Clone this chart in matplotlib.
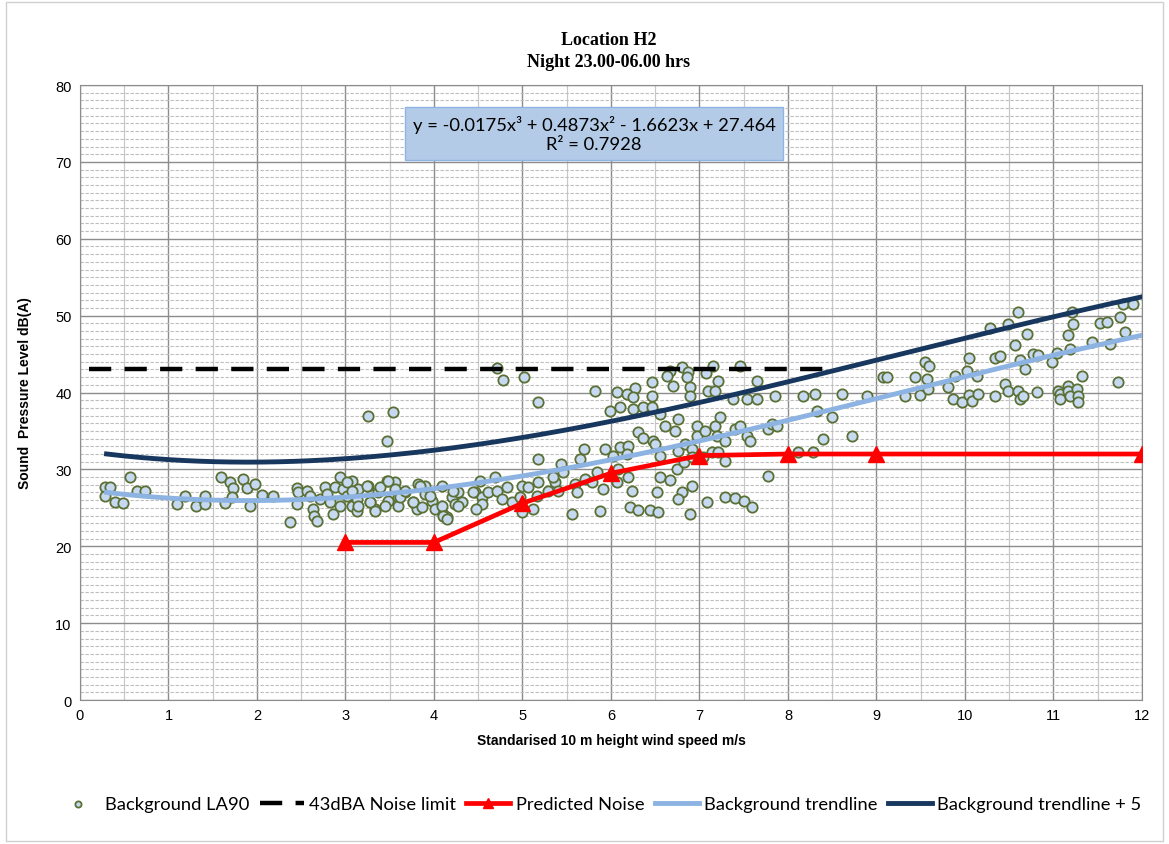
import numpy as np
import matplotlib
matplotlib.use('Agg')
import matplotlib.pyplot as plt
from matplotlib.ticker import MultipleLocator
from matplotlib.patches import Rectangle

# Background LA90 measurements (wind speed m/s, dB(A))
bg_x = [0.28, 0.34, 0.28, 0.40, 0.49, 0.56, 0.64, 0.73, 1.10, 1.19, 1.31, 1.41, 1.41,
        1.59, 1.69, 1.73, 1.84, 1.89, 1.98, 1.72, 1.64, 1.92, 2.06, 2.18, 2.37, 2.45,
        2.46, 2.56, 2.45, 2.60, 2.63, 2.65, 2.68, 2.71, 2.77, 2.79, 2.82, 2.86, 2.88,
        2.94, 2.94, 2.97, 3.02, 3.07, 3.07,
        3.25, 3.54, 3.47, 4.71, 4.78, 5.02, 5.18, 5.82, 5.99, 6.07,
        3.14, 3.13, 3.25, 3.28, 3.33, 3.37, 3.47, 3.48, 3.56, 3.59, 3.59, 3.67, 3.76,
        3.81, 3.82, 3.90, 3.90, 3.98, 4.01, 4.09, 4.10, 4.15, 4.20, 4.24, 4.27, 4.32,
        4.46, 4.52, 4.54, 4.54, 4.61, 4.69, 4.71, 4.77, 4.82, 4.88, 4.97, 4.99, 4.99,
        5.06, 5.12, 5.16, 5.18, 5.18, 5.29, 5.37, 5.35, 5.40, 5.44, 5.46, 5.56, 5.59,
        5.62, 5.65, 5.69, 5.71, 5.79, 5.84, 5.88, 5.91, 5.93, 6.02, 6.08, 6.07,
        3.02, 3.07, 3.13, 3.14, 3.24, 3.28, 3.33, 3.39, 3.45, 3.48, 3.56, 3.62, 3.67,
        3.76, 3.84, 3.86, 3.95, 4.09, 4.10, 4.15, 4.22, 4.27, 4.44, 4.48,
        6.67, 6.80, 6.63, 6.87, 6.86, 7.07, 7.15, 7.46, 7.21, 7.65, 6.46, 6.70, 6.89,
        6.27, 6.18, 6.25, 6.46, 6.89, 7.10, 7.18, 7.38, 7.54, 7.65, 7.85, 8.17, 8.31,
        8.61, 8.89, 9.07,
        6.10, 6.25, 6.36, 6.46, 6.55, 6.76, 6.61, 6.72, 6.31, 6.36, 6.47, 6.50, 6.97,
        6.97, 7.06, 7.18, 7.23, 7.20, 7.29, 7.40, 7.46, 7.54, 7.57, 7.77, 7.82, 7.88,
        8.33, 8.50, 8.40, 8.72,
        6.10, 6.19, 6.18, 6.55, 6.76, 6.84, 6.92, 6.75, 6.82, 6.92, 7.04, 7.14, 7.21,
        7.29, 8.11, 8.28, 7.77,
        6.19, 6.24, 6.55, 6.67, 6.52, 6.80, 6.76, 6.92, 6.21, 6.31, 6.44, 6.53, 6.89,
        7.08, 7.29, 7.40, 7.50, 7.59,
        9.12, 9.44, 9.32, 9.49, 9.55, 9.59, 9.57, 9.58, 9.81, 9.89, 9.86, 9.97, 10.04,
        10.02, 10.04, 10.08, 10.14, 10.15, 10.34, 10.34, 10.40, 10.28, 10.49, 10.45,
        10.49, 10.60, 10.62, 10.66, 10.68, 10.62, 10.56, 10.70, 10.60, 10.77, 10.82,
        10.81, 10.98, 11.04, 11.05, 11.07, 11.07, 11.16, 11.16, 11.19, 11.27, 11.28,
        11.28, 11.19, 11.16, 11.22, 11.21, 11.32, 11.43, 11.53, 11.60, 11.64, 11.75,
        11.81, 11.73, 11.79, 11.90]
bg_y = [27.7, 27.7, 26.5, 25.7, 25.6, 29.0, 27.2, 27.2, 25.5, 26.5, 25.2, 26.5, 25.5,
        29.0, 28.4, 27.6, 28.7, 27.6, 28.1, 26.4, 25.6, 25.2, 26.7, 26.5, 23.2, 27.6,
        27.0, 27.2, 25.5, 26.5, 24.8, 23.9, 23.3, 26.1, 27.7, 26.8, 25.7, 24.2, 27.7,
        29.0, 25.2, 27.4, 26.5, 28.5, 25.2,
        36.9, 37.5, 33.7, 43.2, 41.6, 42.0, 38.8, 40.2, 37.6, 40.1,
        27.4, 24.6, 27.8, 25.7, 24.8, 27.1, 28.5, 25.9, 28.4, 26.4, 25.2, 27.1, 25.7,
        24.8, 28.1, 26.8, 27.8, 25.9, 24.8, 27.8, 24.2, 23.8, 26.4, 25.5, 27.1, 25.7,
        27.1, 28.5, 26.4, 25.5, 27.1, 29.0, 27.2, 26.1, 27.7, 25.7, 26.4, 27.8, 24.5,
        27.7, 24.8, 26.5, 28.4, 31.3, 27.2, 28.4, 29.0, 27.2, 30.7, 29.7, 24.2, 28.1,
        27.1, 31.3, 32.6, 28.7, 28.4, 29.7, 24.6, 27.4, 32.6, 31.7, 30.0, 28.4,
        28.4, 27.2, 26.1, 25.2, 27.8, 25.7, 24.6, 27.7, 25.2, 28.5, 27.4, 26.4, 27.2,
        25.7, 27.8, 25.1, 26.5, 25.2, 23.9, 23.5, 27.2, 25.2, 27.1, 24.8,
        42.8, 43.3, 42.1, 42.7, 42.0, 42.5, 43.4, 43.4, 41.5, 41.5, 41.4, 40.8, 40.7,
        40.6, 39.8, 39.4, 39.5, 39.5, 40.2, 40.2, 39.2, 39.2, 39.2, 39.5, 39.5, 39.8,
        39.8, 39.5, 42.0,
        38.1, 37.9, 38.1, 38.1, 37.2, 36.6, 35.6, 35.0, 34.9, 34.1, 33.7, 33.3, 35.6,
        34.3, 35.0, 35.6, 36.8, 34.3, 33.7, 35.3, 35.6, 34.3, 33.7, 35.3, 35.9, 35.6,
        37.6, 36.8, 34.0, 34.3,
        32.9, 33.0, 32.0, 31.7, 32.4, 33.3, 32.6, 30.0, 31.0, 31.6, 31.6, 32.3, 32.3,
        31.1, 32.3, 32.3, 29.1,
        29.0, 27.2, 29.0, 28.6, 27.1, 27.1, 26.1, 27.8, 25.1, 24.7, 24.7, 24.4, 24.2,
        25.7, 26.4, 26.3, 25.9, 25.1,
        42.0, 42.0, 39.5, 39.7, 44.0, 43.5, 41.8, 40.5, 40.7, 42.1, 39.2, 38.8, 39.7,
        42.8, 44.5, 38.9, 42.1, 39.8, 39.5, 44.5, 44.8, 48.4, 48.9, 41.1,
        40.2, 40.2, 39.2, 39.5, 43.1, 44.2, 46.2, 47.6, 50.5, 45.0, 44.9,
        40.1, 44.0, 45.2, 40.2, 39.8, 39.2, 40.8, 40.2, 39.5, 40.5, 39.5,
        38.8, 45.7, 47.5, 48.9, 50.5, 42.1, 46.6, 49.1, 49.2, 46.3, 49.8,
        47.9, 41.4, 51.5, 51.5]

# 43dBA night-time limit
limit_x = [0.1, 8.5]
limit_y = [43, 43]

# predicted turbine noise
pred_x = [3, 4, 5, 6, 7, 8, 9, 12]
pred_y = [20.5, 20.5, 25.6, 29.5, 31.8, 32.0, 32.0, 32.0]

# cubic fit of the background data (highest power first)
trend_coef = [-0.0175, 0.4873, -1.6623, 27.464]
trend_r2 = 0.7928
trend_x = np.linspace(0.3, 12, 200)
trend_y = np.polyval(trend_coef, trend_x)

fig = plt.figure(figsize=(11.69, 8.45), dpi=100)
ax = fig.add_axes([0.0684, 0.1704, 0.9085, 0.7278])

ax.set_xlim(0, 12)
ax.set_ylim(0, 80)
ax.xaxis.set_major_locator(MultipleLocator(1))
ax.xaxis.set_minor_locator(MultipleLocator(0.5))
ax.yaxis.set_major_locator(MultipleLocator(10))
ax.yaxis.set_minor_locator(MultipleLocator(1))
ax.grid(which='major', axis='both', color='#8c8c8c', linewidth=1.0)
ax.grid(which='minor', axis='x', color='#c8c8c8', linewidth=0.9)
ax.grid(which='minor', axis='y', color='#bdbdbd', linewidth=0.8, linestyle=(0, (3, 1.5)))
ax.set_axisbelow(True)
ax.tick_params(which='both', length=0, labelsize=10.5, pad=6)
for lab in ax.get_xticklabels() + ax.get_yticklabels():
    lab.set_fontfamily('Liberation Sans')
for sp in ax.spines.values():
    sp.set_color('#8c8c8c')

ax.scatter(bg_x, bg_y, s=55, facecolor='#c6d9f1', edgecolor='#5b7035', linewidth=1.3,
           zorder=3, label='Background LA90')
ax.plot(limit_x, limit_y, color='black', linewidth=3.2, linestyle=(0, (5, 3)),
        zorder=4, label='43dBA Noise limit')
ax.plot(pred_x, pred_y, color='#ff0000', linewidth=3.4, marker='^', markersize=12,
        zorder=6, label='Predicted Noise')
ax.plot(trend_x, trend_y, color='#8db3e2', linewidth=3.5, zorder=5,
        label='Background trendline')
ax.plot(trend_x, trend_y + 5, color='#17375e', linewidth=3.5, zorder=5,
        label='Background trendline + 5')

eq = 'y = -0.0175x³ + 0.4873x² - 1.6623x + 27.464\nR² = {}'.format(trend_r2)
ax.text(5.81, 73.7, eq, ha='center', va='center', fontsize=13.2, fontfamily='Lato',
        linespacing=1.3, zorder=7,
        bbox=dict(boxstyle='square,pad=0.4', facecolor='#b4cbe8', edgecolor='#8eb4e3'))

ax.set_xlabel('Standarised 10 m height wind speed m/s', fontsize=10, fontweight='bold',
              fontfamily='Liberation Sans', labelpad=8)
ax.set_ylabel('Sound  Pressure Level dB(A)', fontsize=10, fontweight='bold',
              fontfamily='Liberation Sans', labelpad=17)

fig.text(0.521, 0.952, 'Location H2', ha='center', va='center', fontsize=13,
         fontweight='bold', fontfamily='Liberation Serif')
fig.text(0.521, 0.926, 'Night 23.00-06.00 hrs', ha='center', va='center', fontsize=13,
         fontweight='bold', fontfamily='Liberation Serif')

handles, labels = ax.get_legend_handles_labels()
leg = fig.legend(handles, labels, loc='center', bbox_to_anchor=(0.512, 0.047), ncol=5,
                 frameon=False, handlelength=2.4, handletextpad=0.3, columnspacing=0.55,
                 prop={'family': 'Lato', 'size': 13.2}, markerscale=0.6)

fig.patches.append(Rectangle((0.005, 0.004), 0.99, 0.992, transform=fig.transFigure,
                             fill=False, edgecolor='#d0d0d0', linewidth=1))

fig.savefig('out.png', dpi=100)
